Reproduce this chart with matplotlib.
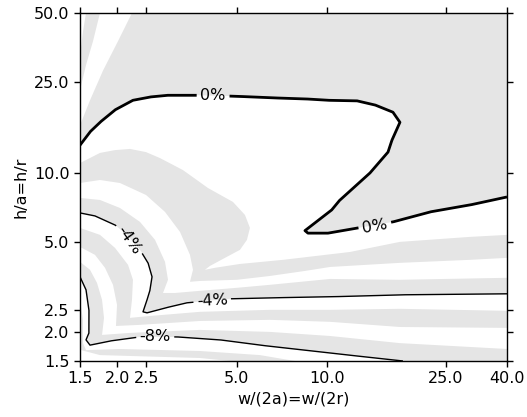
import numpy as np
import matplotlib
matplotlib.use('Agg')
import matplotlib.pyplot as plt

GRAY = '#e5e5e5'
FS = 11.5

# ---- level curves (percent deviation), data coords ----
lvl_p3_x = [1.5, 1.535, 1.571]
lvl_p3_y = [32.45, 41.57, 50.0]
lvl_p2_x = [1.5, 1.571, 1.658, 1.749]
lvl_p2_y = [22.95, 29.6, 37.65, 50.0]
lvl_p1_x = [1.5, 1.62, 1.79, 2.009, 2.237]
lvl_p1_y = [16.12, 20.75, 27.97, 37.65, 50.0]

lvl_0_x = [1.5, 1.62, 1.749, 1.963, 2.254, 2.571, 2.928, 3.773, 5.014, 6.464, 8.459,
           10.02, 12.59, 14.49, 16.64, 17.56, 16.9, 16.51, 16.02, 13.95, 11.07, 10.39,
           8.459, 8.656, 10.1, 12.59, 16.64, 22.13, 30.09, 40.0]
lvl_0_y = [13.2, 15.09, 16.62, 18.83, 20.75, 21.45, 21.82, 21.82, 21.6, 21.28, 21.05,
           20.75, 20.65, 19.8, 18.4, 16.62, 14.88, 13.87, 12.31, 9.98, 7.6, 6.873,
           5.58, 5.44, 5.44, 5.72, 6.092, 6.737, 7.226, 7.833]

lvl_m1_x = [1.5, 1.749, 1.963, 2.203, 2.492, 2.775, 3.311, 4.013, 4.863, 5.333, 5.542,
            5.415, 5.131, 4.573, 4.074, 3.921, 4.234, 5.131, 7.143, 11.96, 17.56, 30.09, 40.0]
lvl_m1_y = [11.02, 12.21, 12.56, 12.71, 12.31, 11.59, 10.27, 8.573, 7.45, 6.537, 5.735,
            5.083, 4.597, 4.241, 3.909, 3.76, 3.836, 3.988, 4.157, 4.5, 4.982, 5.239, 5.346]

lvl_m2_x = [1.5, 1.749, 2.04, 2.492, 2.884, 3.236, 3.494, 3.576, 3.494, 3.773, 5.014,
            6.464, 8.459, 10.26, 17.56, 30.09, 40.0]
lvl_m2_y = [9.016, 9.293, 9.016, 7.992, 6.737, 5.509, 4.371, 3.76, 3.332, 3.36, 3.4,
            3.534, 3.717, 3.869, 4.033, 4.157, 4.241]

lvl_m3_x = [1.5, 1.749, 2.04, 2.379, 2.671, 2.884, 2.951, 2.84, 3.114, 3.773, 5.014,
            6.464, 10.26, 17.56, 40.0]
lvl_m3_y = [7.757, 7.6, 7.01, 6.092, 5.083, 4.074, 3.4, 2.977, 2.977, 3.042, 3.136,
            3.232, 3.429, 3.4, 3.469]

lvl_m4_x = [1.5, 1.683, 1.963, 2.153, 2.379, 2.531, 2.61, 2.571, 2.531, 2.435, 2.512,
            2.884, 3.415, 4.752, 6.464, 10.26, 17.56, 40.0]
lvl_m4_y = [6.669, 6.47, 5.911, 5.346, 4.597, 4.033, 3.504, 3.073, 2.864, 2.462, 2.437,
            2.559, 2.696, 2.807, 2.835, 2.864, 2.922, 2.952]

lvl_m5_x = [1.5, 1.749, 1.963, 2.17, 2.254, 2.237, 2.203, 2.571, 3.773, 6.464, 10.26, 17.56, 40.0]
lvl_m5_y = [5.735, 5.346, 4.69, 3.953, 3.4, 2.779, 2.317, 2.361, 2.462, 2.512, 2.512, 2.538, 2.487]

lvl_m6_x = [1.5, 1.683, 1.818, 1.933, 1.994, 1.978, 2.379, 3.773, 6.464, 10.26, 17.56, 40.0]
lvl_m6_y = [4.734, 4.371, 3.836, 3.232, 2.642, 2.135, 2.159, 2.245, 2.271, 2.226, 2.113, 2.094]

lvl_m7_x = [1.5, 1.62, 1.709, 1.777, 1.804, 1.777, 2.203, 3.773, 6.464, 10.26, 17.56, 40.0]
lvl_m7_y = [4.074, 3.76, 3.298, 2.779, 2.317, 1.951, 1.991, 2.052, 2.011, 1.93, 1.796, 1.693]

lvl_m8_x = [1.5, 1.571, 1.607, 1.607, 1.571, 1.62, 1.889, 2.379, 3.163, 4.4, 5.985, 10.26, 17.97]
lvl_m8_y = [3.504, 3.073, 2.512, 1.991, 1.856, 1.76, 1.835, 1.912, 1.912, 1.856, 1.76, 1.625, 1.5]

lvl_m9_x = [1.5, 1.535, 1.535, 1.571, 2.04, 3.773, 5.985, 7.83]
lvl_m9_y = [2.779, 2.271, 1.796, 1.674, 1.693, 1.659, 1.592, 1.5]

lvl_m10_x = [1.5, 1.512, 1.749, 3.773, 4.752]
lvl_m10_y = [2.159, 1.674, 1.592, 1.546, 1.5]

# contour labels
lab_text = ['0%', '0%', '-4%', '-4%', '-8%']
lab_level = [0, 0, -4, -4, -8]
lab_x = [4.17, 14.49, 2.185, 4.154, 2.671]
lab_y = [21.82, 5.85, 5.083, 2.75, 1.912]
lab_rot = [0, 10, -55, 3, 0]

x_ticks = [1.5, 2.0, 2.5, 5.0, 10.0, 25.0, 40.0]
y_ticks = [1.5, 2.0, 2.5, 5.0, 10.0, 25.0, 50.0]

levels = [
    (-10, lvl_m10_x, lvl_m10_y, 'bottom'),
    (-9, lvl_m9_x, lvl_m9_y, 'bottom'),
    (-8, lvl_m8_x, lvl_m8_y, 'bottom'),
    (-7, lvl_m7_x, lvl_m7_y, 'right'),
    (-6, lvl_m6_x, lvl_m6_y, 'right'),
    (-5, lvl_m5_x, lvl_m5_y, 'right'),
    (-4, lvl_m4_x, lvl_m4_y, 'right'),
    (-3, lvl_m3_x, lvl_m3_y, 'right'),
    (-2, lvl_m2_x, lvl_m2_y, 'right'),
    (-1, lvl_m1_x, lvl_m1_y, 'right'),
    (0, lvl_0_x, lvl_0_y, 'right'),
    (1, lvl_p1_x, lvl_p1_y, 'top'),
    (2, lvl_p2_x, lvl_p2_y, 'top'),
    (3, lvl_p3_x, lvl_p3_y, 'top'),
]

XMIN, XMAX, YMIN, YMAX = 1.5, 40.0, 1.5, 50.0

fig = plt.figure(figsize=(5.27, 4.17), dpi=100)
ax = fig.add_axes([80 / 527, 1 - 361 / 417, 427 / 527, 348 / 417])
ax.set_xscale('log')
ax.set_yscale('log')
ax.set_xlim(XMIN, XMAX)
ax.set_ylim(YMIN, YMAX)
ax.set_facecolor('white')

# painter's algorithm: region "value > k" painted with colour of band (k, k+1)
for k, xs, ys, end in levels:
    color = GRAY if k % 2 == 0 else 'white'
    if end == 'right':
        px = list(xs) + [XMAX, XMIN]
        py = list(ys) + [YMAX, YMAX]
    elif end == 'bottom':
        px = list(xs) + [XMAX, XMAX, XMIN]
        py = list(ys) + [YMIN, YMAX, YMAX]
    else:
        px = list(xs) + [XMIN]
        py = list(ys) + [YMAX]
    ax.fill(px, py, color=color, lw=0, antialiased=True, zorder=1)

# ticks / labels
ax.set_xticks(x_ticks)
ax.set_xticklabels(['%.1f' % v for v in x_ticks])
ax.set_yticks(y_ticks)
ax.set_yticklabels(['%.1f' % v for v in y_ticks])
ax.xaxis.set_minor_locator(matplotlib.ticker.NullLocator())
ax.yaxis.set_minor_locator(matplotlib.ticker.NullLocator())
ax.tick_params(which='both', direction='out', top=True, right=True, length=4,
               width=1, labelsize=FS, colors='black')
for s in ax.spines.values():
    s.set_linewidth(1.0)
    s.set_zorder(5)
ax.set_xlabel('w/(2a)=w/(2r)', fontsize=FS)
ax.set_ylabel('h/a=h/r', fontsize=FS)

# contour labels
texts = []
for t, xv, yv, r in zip(lab_text, lab_x, lab_y, lab_rot):
    tx = ax.text(xv, yv, t, fontsize=FS, ha='center', va='center', rotation=r,
                 rotation_mode='anchor', zorder=6)
    texts.append(tx)

fig.canvas.draw()
renderer = fig.canvas.get_renderer()
label_boxes = []
for t, xv, yv, r, lv in zip(lab_text, lab_x, lab_y, lab_rot, lab_level):
    tmp = ax.text(xv, yv, t, fontsize=FS, ha='center', va='center')
    bb = tmp.get_window_extent(renderer)
    tmp.remove()
    cx, cy = ax.transData.transform((xv, yv))
    label_boxes.append((lv, cx, cy, bb.width / 2 + 3, bb.height / 2 - 1, np.deg2rad(r)))


def draw_level(xs, ys, level, lw):
    lx = np.log(np.asarray(xs, float))
    ly = np.log(np.asarray(ys, float))
    dx, dy = [], []
    for i in range(len(lx) - 1):
        s = np.linspace(0, 1, 40, endpoint=False)
        dx.append(lx[i] + (lx[i + 1] - lx[i]) * s)
        dy.append(ly[i] + (ly[i + 1] - ly[i]) * s)
    dx.append([lx[-1]])
    dy.append([ly[-1]])
    X = np.exp(np.concatenate(dx))
    Y = np.exp(np.concatenate(dy))
    D = ax.transData.transform(np.column_stack([X, Y]))
    mask = np.zeros(len(X), bool)
    for lv, cx, cy, hw, hh, th in label_boxes:
        if lv != level:
            continue
        ox = D[:, 0] - cx
        oy = D[:, 1] - cy
        u = ox * np.cos(th) + oy * np.sin(th)
        v = -ox * np.sin(th) + oy * np.cos(th)
        mask |= (np.abs(u) < hw) & (np.abs(v) < hh + 6)
    X = X.copy()
    Y = Y.copy()
    X[mask] = np.nan
    Y[mask] = np.nan
    ax.plot(X, Y, color='black', lw=lw, zorder=4, solid_capstyle='butt')


draw_level(lvl_0_x, lvl_0_y, 0, 2.0)
draw_level(lvl_m4_x, lvl_m4_y, -4, 1.0)
draw_level(lvl_m8_x, lvl_m8_y, -8, 1.0)

fig.savefig('out.png', dpi=100)
